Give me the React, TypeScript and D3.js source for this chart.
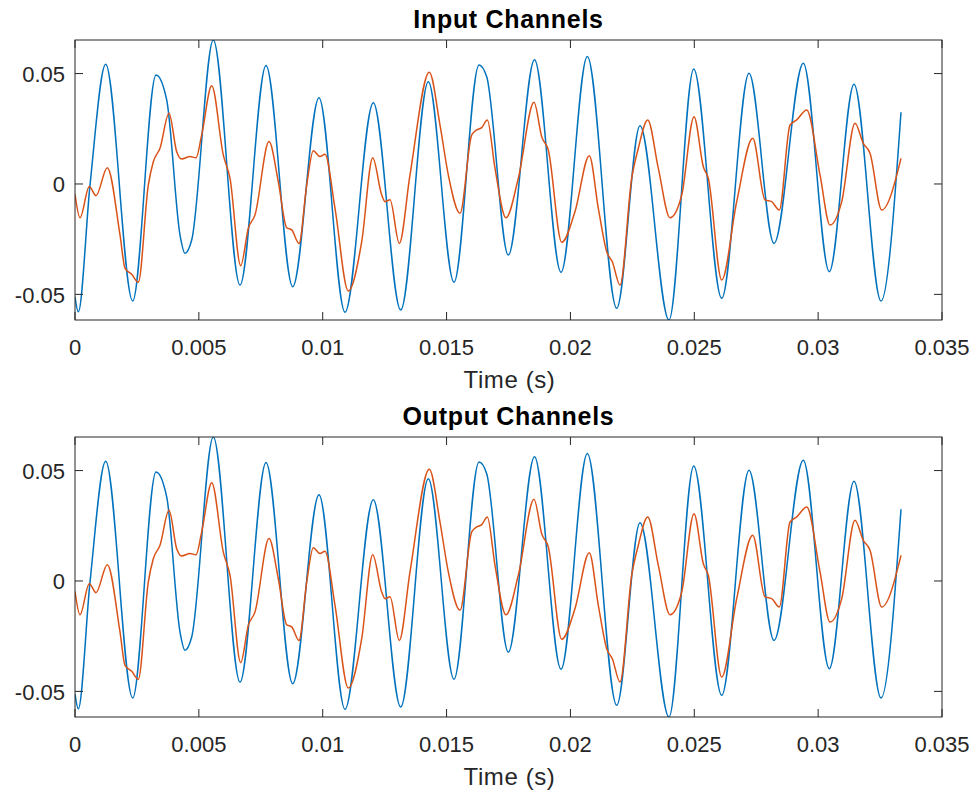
import React from "react";
import * as d3 from "d3";

// Time in milliseconds, amplitude in signal units
const channel1: [number, number][] = [
  [0, -0.0511], [0.133, -0.0579], [0.606, -0.0005], [1.239, 0.0542], [2.329, -0.053],
  [3.27, 0.0494], [3.702, 0.0381], [4.239, -0.0231], [4.441, -0.0314], [4.711, -0.0254],
  [5.583, 0.0652], [6.661, -0.0458], [7.711, 0.0536], [8.789, -0.0465], [9.85, 0.0391],
  [10.9, -0.0581], [12.042, 0.0368], [13.149, -0.0571], [14.263, 0.0463], [15.3, -0.0445],
  [16.31, 0.0539], [16.62, 0.0486], [17.492, -0.0322], [18.55, 0.0562], [19.62, -0.04],
  [20.682, 0.0577], [21.869, -0.0563], [22.809, 0.0264], [23.98, -0.0616], [24.977, 0.0521],
  [26.107, -0.0518], [27.209, 0.0501], [28.219, -0.0269], [29.401, 0.0547], [30.451, -0.0397],
  [31.448, 0.0452], [32.538, -0.053], [33.345, 0.0325],
];

const channel2: [number, number][] = [
  [0, -0.0047], [0.202, -0.0153], [0.577, -0.0012], [0.848, -0.0053], [1.304, 0.0074],
  [1.817, -0.0231], [2.019, -0.0382], [2.289, -0.0409], [2.555, -0.0445], [2.959, -0.0005],
  [3.161, 0.0101], [3.431, 0.0162], [3.795, 0.032], [4.106, 0.0146], [4.307, 0.0113],
  [4.643, 0.0124], [4.885, 0.0119], [5.115, 0.0222], [5.519, 0.0445], [5.987, 0.0131],
  [6.257, 0.0026], [6.689, -0.037], [6.996, -0.0201], [7.267, -0.014], [7.832, 0.0192],
  [8.207, 0.001], [8.546, -0.0198], [8.748, -0.0208], [9.043, -0.0269], [9.354, -0.0005],
  [9.62, 0.015], [9.891, 0.0124], [10.093, 0.0135], [10.496, -0.011], [11.033, -0.0485],
  [11.574, -0.0261], [12.018, 0.0119], [12.382, -0.005], [12.515, -0.008], [12.717, -0.0072],
  [13.092, -0.0269], [13.524, 0.0041], [14.303, 0.0506], [14.735, 0.0267], [15.07, 0.0041],
  [15.543, -0.0133], [16.015, 0.0222], [16.217, 0.0245], [16.419, 0.0255], [16.645, 0.029],
  [16.955, 0.0071], [17.399, -0.0153], [17.896, 0.0026], [18.53, 0.037], [18.84, 0.0214],
  [19.107, 0.0154], [19.648, -0.0264], [20.185, -0.0125], [20.762, 0.0128], [21.126, -0.011],
  [21.465, -0.0307], [21.691, -0.0352], [22.002, -0.0458], [22.474, 0.0026], [22.741, 0.0162],
  [23.12, 0.029], [23.548, 0.0071], [24.02, -0.0153], [24.493, -0.005], [24.989, 0.0305],
  [25.365, 0.0078], [25.566, 0.0026], [26.107, -0.0435], [26.713, -0.008], [27.359, 0.0207],
  [27.855, -0.0072], [28.126, -0.008], [28.432, -0.0118], [28.865, 0.0267], [29.135, 0.029],
  [29.539, 0.0335], [30.076, 0.0041], [30.479, -0.0186], [30.952, -0.008], [31.488, 0.0275],
  [31.823, 0.0184], [32.094, 0.0139], [32.566, -0.0118], [33.345, 0.0116],
];

const xTicks = [0, 0.005, 0.01, 0.015, 0.02, 0.025, 0.03, 0.035];
const xTickLabels = ["0", "0.005", "0.01", "0.015", "0.02", "0.025", "0.03", "0.035"];
const yTicks = [-0.05, 0, 0.05];
const yTickLabels = ["-0.05", "0", "0.05"];
const titles = ["Input Channels", "Output Channels"];
const xLabel = "Time (s)";
const yDomain: [number, number] = [-0.0616, 0.0652];
const xDomain: [number, number] = [0, 0.035];

const W = 975;
const H = 793;
const L = 75;
const R = 942;
const PH = 280;
const tops = [40, 437];
const AX = "#262626";
const FONT = "'Liberation Sans', Arial, Helvetica, sans-serif";

function Panel({ top, title, idx }: { top: number; title: string; idx: number }) {
  const x = d3.scaleLinear().domain(xDomain).range([L, R]);
  const y = d3.scaleLinear().domain(yDomain).range([top + PH, top]);
  const line = d3
    .line<[number, number]>()
    .x((d) => x(d[0] / 1000))
    .y((d) => y(d[1]))
    .curve(d3.curveMonotoneX);
  const clipId = `clip${idx}`;
  const tl = 8;
  return (
    <g>
      <defs>
        <clipPath id={clipId}>
          <rect x={L} y={top} width={R - L} height={PH} />
        </clipPath>
      </defs>
      <rect x={L} y={top} width={R - L} height={PH} fill="#fff" />
      <g clipPath={`url(#${clipId})`}>
        <path d={line(channel1) || ""} fill="none" stroke="#0072BD" strokeWidth={1.5} strokeLinejoin="round" />
        <path d={line(channel2) || ""} fill="none" stroke="#D95319" strokeWidth={1.5} strokeLinejoin="round" />
      </g>
      <rect x={L} y={top} width={R - L} height={PH} fill="none" stroke={AX} strokeWidth={1} />
      {xTicks.map((t, i) => (
        <g key={"x" + i}>
          <line x1={x(t)} x2={x(t)} y1={top + PH} y2={top + PH - tl} stroke={AX} />
          <line x1={x(t)} x2={x(t)} y1={top} y2={top + tl} stroke={AX} />
          <text x={x(t)} y={top + PH + 35} textAnchor="middle" fontSize={22} fill={AX} fontFamily={FONT}>
            {xTickLabels[i]}
          </text>
        </g>
      ))}
      {yTicks.map((t, i) => (
        <g key={"y" + i}>
          <line x1={L} x2={L + tl} y1={y(t)} y2={y(t)} stroke={AX} />
          <line x1={R} x2={R - tl} y1={y(t)} y2={y(t)} stroke={AX} />
          <text x={L - 10} y={y(t) + 8.5} textAnchor="end" fontSize={22} fill={AX} fontFamily={FONT}>
            {yTickLabels[i]}
          </text>
        </g>
      ))}
      <text x={(L + R) / 2 + 1} y={top + PH + 68} textAnchor="middle" fontSize={24} letterSpacing={0.6} fill={AX} fontFamily={FONT}>
        {xLabel}
      </text>
      <text x={(L + R) / 2} y={top - 12} textAnchor="middle" fontSize={25} letterSpacing={0.7} fontWeight="bold" fill="#000" fontFamily={FONT}>
        {title}
      </text>
    </g>
  );
}

export default function App() {
  return (
    <svg
      width={W}
      height={H}
      viewBox={`0 0 ${W} ${H}`}
      style={{ position: "absolute", left: 0, top: 0, background: "#fff" }}
    >
      <rect width={W} height={H} fill="#fff" />
      {tops.map((t, i) => (
        <Panel key={i} top={t} title={titles[i]} idx={i} />
      ))}
    </svg>
  );
}
